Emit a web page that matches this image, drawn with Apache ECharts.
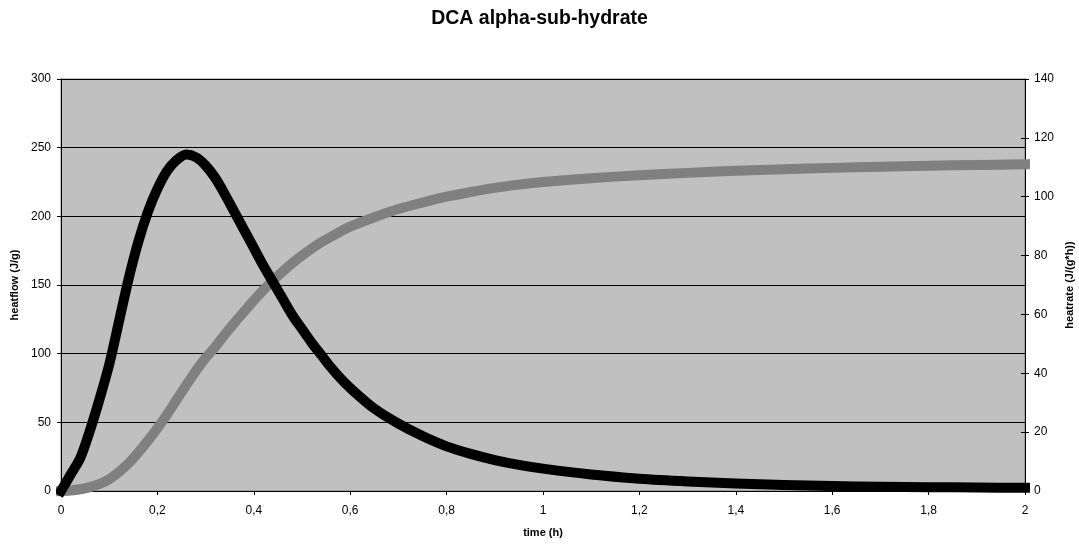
<!DOCTYPE html>
<html>
<head>
<meta charset="utf-8">
<script src="https://cdn.jsdelivr.net/npm/echarts@6/dist/echarts.min.js"></script>
<style>
html,body{margin:0;padding:0;background:#fff;}
#chart{width:1079px;height:547px;}
</style>
</head>
<body>
<div id="chart"></div>
<script>
// ---- data ----
const titleText = 'DCA alpha-sub-hydrate';
const xAxisName = 'time (h)';
const leftAxisName = 'heatflow (J/g)';
const rightAxisName = 'heatrate (J/(g*h))';

const xTickLabels = ['0','0,2','0,4','0,6','0,8','1','1,2','1,4','1,6','1,8','2'];
const leftTicks = [0,50,100,150,200,250,300];
const rightTicks = [0,20,40,60,80,100,120,140];

// black curve (left axis)
const blackTime = [0,0.02,0.04,0.06,0.08,0.1,0.12,0.14,0.16,0.18,0.2,0.22,0.24,0.26,0.28,0.3,0.32,0.34,0.36,0.38,0.4,0.42,0.44,0.46,0.48,0.5,0.52,0.54,0.56,0.58,0.6,0.65,0.7,0.75,0.8,0.85,0.9,0.95,1.0,1.1,1.2,1.3,1.4,1.5,1.6,1.7,1.8,1.9,2.0];
const blackValues = [0,12,24,44,67,92,123,154,181,203,220,233,241,245,243,237,228,216,203,190,177,164,152,140,128,118,108,99,90,82,75,60,49,40,32.5,27,22.5,19,16.3,12,9,7,5.5,4.4,3.6,3.1,2.8,2.5,2.3];

// gray curve (right axis)
const grayTime = [0,0.02,0.04,0.06,0.08,0.1,0.12,0.14,0.16,0.18,0.2,0.22,0.24,0.26,0.28,0.3,0.32,0.34,0.36,0.38,0.4,0.42,0.44,0.46,0.48,0.5,0.52,0.54,0.56,0.58,0.6,0.65,0.7,0.75,0.8,0.85,0.9,0.95,1.0,1.1,1.2,1.3,1.4,1.5,1.6,1.7,1.8,1.9,2.0];
const grayValues = [0,0.2,0.6,1.3,2.4,4.0,6.4,9.4,13,17,21.3,26,31,36,40.8,45.2,49,53.2,57.2,61,64.8,68.3,71.6,74.6,77.4,80,82.4,84.5,86.4,88.2,89.8,93,95.8,98,100,101.6,103,104.1,105,106.3,107.3,108.1,108.8,109.3,109.8,110.2,110.5,110.8,111];

const FONT = "'Liberation Sans', Arial, sans-serif";
const blackData = blackTime.map((t,i)=>[t, blackValues[i]]);
const grayData = grayTime.map((t,i)=>[t, grayValues[i]]);

const chart = echarts.init(document.getElementById('chart'), null, {renderer:'canvas'});
chart.setOption({
  animation: false,
  backgroundColor: '#ffffff',
  title: {
    text: titleText,
    left: 'center',
    top: 4,
    textStyle: {fontFamily: FONT, fontSize: 19.5, fontWeight: 'bold', color: '#000'}
  },
  grid: {
    left: 61, right: 54, top: 79, bottom: 56,
    outerBoundsMode: 'none', containLabel: false,
    show: true, backgroundColor: '#c0c0c0', borderColor: '#808080', borderWidth: 1
  },
  xAxis: {
    type: 'value', min: 0, max: 2, interval: 0.2,
    name: xAxisName, nameLocation: 'middle', nameGap: 36,
    nameTextStyle: {fontFamily: FONT, fontSize: 11, fontWeight: 'bold', color: '#000'},
    axisLine: {show: true, onZero: false, lineStyle: {color: '#000', width: 1}},
    axisTick: {show: true, length: 4, lineStyle: {color: '#000'}},
    axisLabel: {fontFamily: FONT, fontSize: 12, color: '#000', margin: 14,
      formatter: v => xTickLabels[Math.round(v / 0.2)]},
    splitLine: {show: false}
  },
  yAxis: [
    {
      type: 'value', min: leftTicks[0], max: leftTicks[leftTicks.length-1], interval: 50, position: 'left',
      name: leftAxisName, nameLocation: 'middle', nameGap: 34, nameRotate: 90,
      nameTextStyle: {fontFamily: FONT, fontSize: 11, fontWeight: 'bold', color: '#000'},
      axisLine: {show: true, lineStyle: {color: '#000', width: 1}},
      axisTick: {show: true, length: 4, lineStyle: {color: '#000'}},
      axisLabel: {fontFamily: FONT, fontSize: 12, color: '#000', margin: 10},
      splitLine: {show: true, lineStyle: {color: '#000', width: 1}}
    },
    {
      type: 'value', min: rightTicks[0], max: rightTicks[rightTicks.length-1], interval: 20, position: 'right',
      name: rightAxisName, nameLocation: 'middle', nameGap: 32, nameRotate: 90,
      nameTextStyle: {fontFamily: FONT, fontSize: 11, fontWeight: 'bold', color: '#000'},
      axisLine: {show: true, lineStyle: {color: '#000', width: 1}},
      axisTick: {show: true, length: 4, lineStyle: {color: '#000'}},
      axisLabel: {fontFamily: FONT, fontSize: 12, color: '#000', margin: 9},
      splitLine: {show: false}
    },
    {
      type: 'value', min: rightTicks[0], max: rightTicks[rightTicks.length-1], interval: 20, position: 'right',
      axisLine: {show: false},
      axisTick: {show: true, inside: true, length: 4, lineStyle: {color: '#000'}},
      axisLabel: {show: false},
      splitLine: {show: false}
    }
  ],
  series: [
    {
      type: 'line', yAxisIndex: 1, data: grayData, smooth: 0.3, showSymbol: false, clip: false,
      lineStyle: {color: '#808080', width: 10, cap: 'square', join: 'round'}, z: 2
    },
    {
      type: 'line', yAxisIndex: 0, data: blackData, smooth: 0.3, showSymbol: false, clip: false,
      lineStyle: {color: '#000000', width: 10, cap: 'square', join: 'round'}, z: 3
    }
  ]
});
</script>
</body>
</html>
